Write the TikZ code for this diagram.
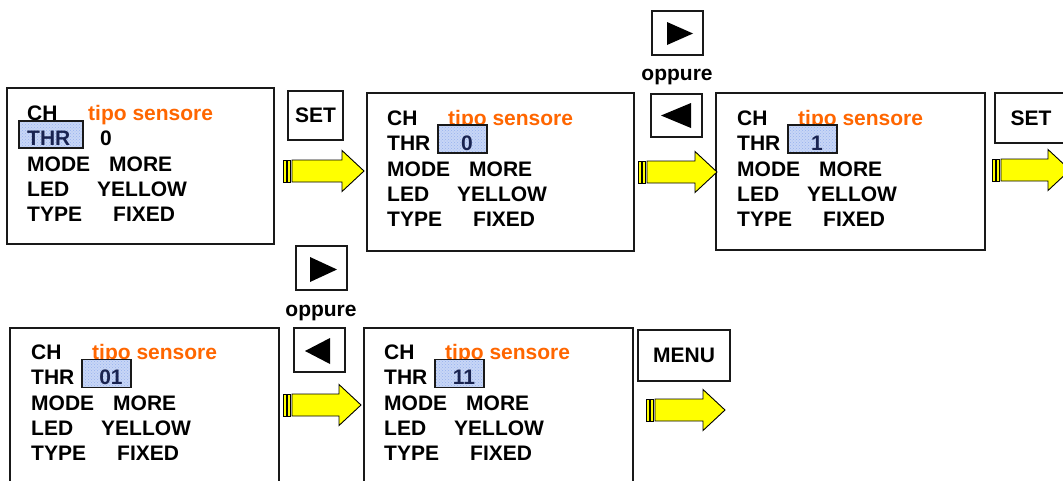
\documentclass[tikz,border=0pt]{standalone}
\usepackage{fontspec}
\setmainfont{Liberation Sans}
\usetikzlibrary{patterns}
\definecolor{orng}{RGB}{255,102,0}
\definecolor{hlfill}{RGB}{200,214,246}
\definecolor{hldot}{RGB}{150,178,238}
\definecolor{navy}{RGB}{25,35,80}
\definecolor{edge}{RGB}{25,25,25}
\definecolor{arrowyellow}{RGB}{255,255,0}
\tikzset{
  txt/.style={font=\bfseries\fontsize{21}{25}\selectfont, inner sep=0pt, anchor=base west, text=black},
  ctxt/.style={txt, anchor=base},
  frame/.style={draw=edge, line width=1.6pt, fill=white},
  hl/.style={draw=edge, line width=1.3pt, fill=hlfill},
  hldots/.style={pattern=crosshatch dots, pattern color=hldot},
  btn/.style={draw=edge, line width=1.6pt, fill=white, inner sep=0pt,
    font=\bfseries\fontsize{21}{25}\selectfont},
  arr/.style={draw=black, line width=0.9pt, fill=arrowyellow, line join=miter},
}
\newcommand\screenlines[1]{%
  \node[txt] (#1ch) at (27,120) {CH};
  \node[txt,text=orng] (#1tipo) at (88,120) {tipo sensore};
  \node[txt] (#1mode) at (27,171) {MODE};
  \node[txt] (#1more) at (109,171) {MORE};
  \node[txt] (#1led) at (27,196) {LED};
  \node[txt] (#1yel) at (97,196) {YELLOW};
  \node[txt] (#1type) at (27,221) {TYPE};
  \node[txt] (#1fix) at (113,221) {FIXED};
}
\newcommand\valuebox[2]{%
  \draw[hl] (78,120) rectangle (127,148);
  \fill[hldots] (78,120) rectangle (127,148);
  \draw[draw=edge, line width=1.3pt] (78,120) rectangle (127,148);
  \node[txt] (#1thr) at (27,145) {THR};
  \node[ctxt,text=navy] (#1val) at (107,145) {#2};
}
\newcommand\blockarrow[3]{%
  \draw[arr] (#1,#3-11) rectangle (#1+3,#3+11);
  \draw[arr] (#1+4.5,#3-11) rectangle (#1+7.5,#3+11);
  \draw[arr] (#1+9,#3-11) -- (#2-22,#3-11) -- (#2-22,#3-20.5) -- (#2,#3)
    -- (#2-22,#3+20.5) -- (#2-22,#3+11) -- (#1+9,#3+11) -- cycle;
}
\begin{document}
\begin{tikzpicture}[x=1pt,y=-1pt]
\useasboundingbox (0,0) rectangle (1063,480);
\clip (0,0) rectangle (1063,480);

% ---------- screen frames ----------
\draw[frame] (7,88) rectangle (274,244);
\draw[frame] (367,93) rectangle (634,251);
\draw[frame] (716,93) rectangle (985,250);
\draw[frame] (10,328) rectangle (279,495);
\draw[frame] (364,328) rectangle (633,495);

% ---------- screen 1 ----------
\begin{scope}
  \screenlines{a}
  \draw[hl] (19,121) rectangle (83,148);
  \fill[hldots] (19,121) rectangle (83,148);
  \draw[draw=edge, line width=1.3pt] (19,121) rectangle (83,148);
  \node[txt,text=navy] (athr) at (27,145) {THR};
  \node[txt] (aval) at (100,145) {0};
\end{scope}

% ---------- screen 2 ----------
\begin{scope}[shift={(360,5)}]
  \screenlines{b}
  \valuebox{b}{0}
\end{scope}

% ---------- screen 3 ----------
\begin{scope}[shift={(710,5)}]
  \screenlines{c}
  \valuebox{c}{1}
\end{scope}

% ---------- screen 4 ----------
\begin{scope}[shift={(4,239.5)}]
  \screenlines{d}
  \valuebox{d}{01}
\end{scope}

% ---------- screen 5 ----------
\begin{scope}[shift={(357,239.5)}]
  \screenlines{e}
  \valuebox{e}{11}
\end{scope}

% ---------- buttons ----------
\node[btn, minimum width=55pt, minimum height=49pt] (set1) at (315.5,115.5) {SET};
\node[btn, minimum width=72pt, minimum height=50pt] (set2) at (1031,118) {SET};
\node[btn, minimum width=92pt, minimum height=51pt] (menu) at (684,355.5) {MENU};

\node[btn, minimum width=51pt, minimum height=44pt] (rtop) at (677.5,33) {};
\fill[black] (667,22) -- (667,45) -- (693,33.5) -- cycle;
\node[ctxt] (otop) at (677,80) {oppure};
\node[btn, minimum width=51pt, minimum height=43pt] (ltop) at (676.5,115.5) {};
\fill[black] (691,103) -- (691,128) -- (661,115.5) -- cycle;

\node[btn, minimum width=51pt, minimum height=44pt] (rbot) at (321.5,268) {};
\fill[black] (310,257) -- (310,282) -- (337,269.5) -- cycle;
\node[ctxt] (obot) at (321,316) {oppure};
\node[btn, minimum width=51pt, minimum height=44pt] (lbot) at (319.5,350) {};
\fill[black] (330,338) -- (330,364) -- (305,351) -- cycle;

% ---------- block arrows ----------
\blockarrow{283}{364}{171}
\blockarrow{638}{717}{172}
\blockarrow{992}{1070}{170}
\blockarrow{283}{361}{405}
\blockarrow{646}{725}{410}
\end{tikzpicture}
\end{document}
